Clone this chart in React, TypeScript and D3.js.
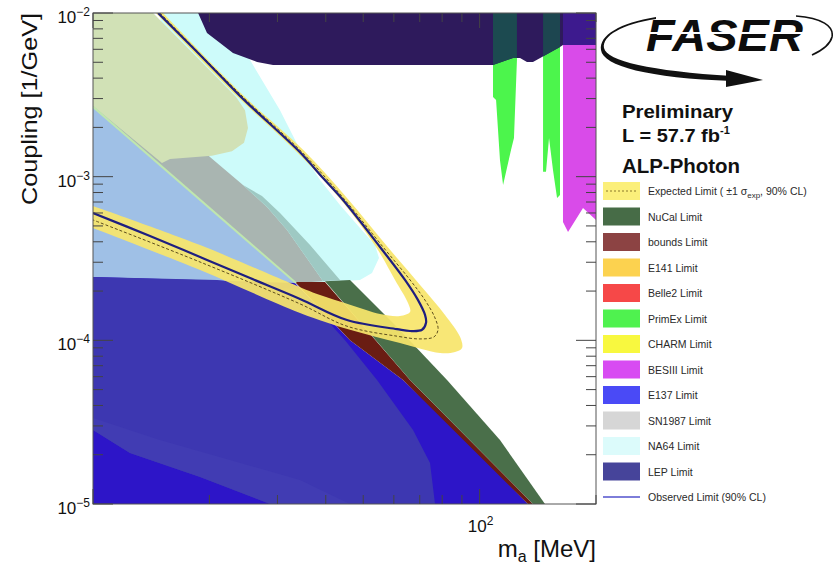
import React from "react";
import * as d3 from "d3";

// Plot frame in pixels
const FRAME = { left: 93, top: 13, right: 596, bottom: 504 };

// Axes: ALP mass m_a [MeV] (log) and coupling g [1/GeV] (log)
const massDomain: [number, number] = [10, 200];
const couplingDomain: [number, number] = [1e-5, 1e-2];
const yLabelExponents = [-2, -3, -4, -5];
const xLabelExponents = [2];

// Exclusion regions, mass in MeV, coupling in 1/GeV
const na64Mass = [14.9, 20.68, 25.48, 30.46, 34.31, 38.66, 43.54, 49.04, 53.63, 54.93, 52.69, 49.04, 41.02, 34.31, 25.48, 18.92, 15.82];
const na64Coupling = [1e-2, 1e-2, 5.16e-3, 2.55e-3, 1.46e-3, 9.54e-4, 6.71e-4, 4.86e-4, 3.82e-4, 3.18e-4, 2.58e-4, 2.34e-4, 2.27e-4, 2.24e-4, 4.72e-4, 1.1e-3, 1.93e-3];

const sn1987Mass = [10, 14.04, 20.07, 24.43, 28.19, 31.76, 39.36, 33.5, 10];
const sn1987Coupling = [5.94e-3, 2.94e-3, 1.32e-3, 8.89e-4, 6.53e-4, 4.72e-4, 2.3e-4, 2.24e-4, 2.67e-4];

const sn1987Na64Mass = [24.43, 27.36, 30.46, 36.42, 43.54, 39.36, 31.76, 28.19];
const sn1987Na64Coupling = [8.89e-4, 7.62e-4, 6.0e-4, 3.82e-4, 2.34e-4, 2.3e-4, 4.72e-4, 6.53e-4];

const e137Mass = [10, 33.5, 33.5, 10];
const e137Coupling = [2.67e-3, 2.24e-4, 2.2e-4, 2.2e-4];

const e137CoreMass = [10, 33.3, 46.21, 63.37, 94.45, 133.4, 10];
const e137CoreCoupling = [2.44e-4, 2.24e-4, 1.0e-4, 5.72e-5, 2.33e-5, 1e-5, 1e-5];

const sn1987LowMass = [10, 20.93, 34.31, 44.85, 54.28, 67.26, 74.43, 76.67, 28.7, 18.92, 12.46, 10];
const sn1987LowCoupling = [2.44e-4, 2.34e-4, 2.03e-4, 1.0e-4, 5.72e-5, 2.83e-5, 1.78e-5, 1e-5, 1e-5, 1.46e-5, 2.05e-5, 2.83e-5];

const sn1987RimMass = [10, 14.9, 22.62, 34.31, 46.21, 28.7, 18.92, 12.46, 10];
const sn1987RimCoupling = [3.35e-5, 2.46e-5, 1.86e-5, 1.4e-5, 1e-5, 1e-5, 1.46e-5, 2.05e-5, 2.83e-5];

const boundsMass = [33.3, 39.82, 66.07, 137.4, 133.4, 63.37, 46.21];
const boundsCoupling = [2.27e-4, 2.27e-4, 5.72e-5, 1e-5, 1e-5, 5.72e-5, 1.0e-4];

const nucalMass = [39.82, 46.21, 60.42, 82.36, 112.9, 147.6, 137.4, 66.07];
const nucalCoupling = [2.3e-4, 2.34e-4, 1.24e-4, 5.72e-5, 2.46e-5, 1e-5, 1e-5, 5.72e-5];

const charmMass = [10, 14.3, 23.44, 24.73, 25.17, 24.58, 22.88, 20.31, 15.82, 15.08, 10];
const charmCoupling = [1e-2, 1e-2, 3.07e-3, 2.55e-3, 1.98e-3, 1.61e-3, 1.43e-3, 1.34e-3, 1.28e-3, 1.21e-3, 2.7e-3];

const e137EdgeMass = [10, 33.5];
const e137EdgeCoupling = [2.67e-3, 2.24e-4];

const primexAMass = [108.3, 108.3, 110.3, 112.9, 115.0, 120.6, 122.7, 124.9, 124.9];
const primexACoupling = [1e-2, 3.07e-3, 2.94e-3, 1.26e-3, 8.89e-4, 1.46e-3, 1.72e-3, 5.16e-3, 1e-2];

const primexBMass = [145.9, 145.9, 148.5, 151.2, 154.8, 158.6, 161.4, 161.4];
const primexBCoupling = [1e-2, 1.07e-3, 1.07e-3, 1.72e-3, 1.1e-3, 7.41e-4, 7.73e-4, 1e-2];

const besMass = [164.3, 200, 200, 185.1, 169.3, 164.3];
const besCoupling = [1e-2, 1e-2, 5.44e-4, 6.44e-4, 4.59e-4, 5.28e-4];

const lepMass = [18.7, 19.72, 21.31, 23.02, 26.57, 29.22, 108.3, 122.0, 127.2, 132.6, 137.4, 161.4, 164.3, 200, 200];
const lepCoupling = [1e-2, 7.55e-3, 6.56e-3, 5.7e-3, 5.02e-3, 4.81e-3, 4.81e-3, 5.31e-3, 5.31e-3, 5.02e-3, 5.02e-3, 6.2e-3, 6.37e-3, 6.37e-3, 1e-2];

// FASER expected +-1 sigma band (outer and inner edge) and limits
const bandOuterMass = [15.17, 24.73, 34.93, 45.39, 57.27, 70.13, 81.38, 88.99, 90.06, 86.39, 78.99, 62.24, 46.21, 34.31, 18.92, 10.0];
const bandOuterCoupling = [1e-2, 3.07e-3, 1.46e-3, 7.41e-4, 3.82e-4, 2.18e-4, 1.43e-4, 1.05e-4, 8.98e-5, 8.49e-5, 8.37e-5, 9.63e-5, 1.16e-4, 1.47e-4, 2.69e-4, 4.86e-4];
const bandInnerMass = [14.55, 23.71, 33.91, 43.8, 53.95, 60.42, 65.28, 66.07, 62.24, 55.26, 46.21, 38.66, 32.33, 18.92, 10.0];
const bandInnerCoupling = [1e-2, 3.07e-3, 1.39e-3, 7.2e-4, 3.72e-4, 2.34e-4, 1.69e-4, 1.49e-4, 1.41e-4, 1.45e-4, 1.65e-4, 1.89e-4, 2.24e-4, 3.82e-4, 6.62e-4];

const expectedMass = [14.9, 24.29, 34.72, 44.85, 56.25, 66.07, 72.24, 76.67, 78.06, 76.23, 70.13, 61.14, 45.39, 34.31, 18.92, 10.0];
const expectedCoupling = [1e-2, 3.11e-3, 1.41e-3, 7.2e-4, 3.72e-4, 2.34e-4, 1.76e-4, 1.37e-4, 1.16e-4, 1.05e-4, 1.02e-4, 1.06e-4, 1.22e-4, 1.67e-4, 3.01e-4, 5.44e-4];

const observedMass = [14.73, 18.92, 24.0, 26.24, 34.31, 39.36, 44.33, 55.26, 64.12, 69.3, 72.24, 72.68, 70.96, 66.07, 61.14, 45.39, 34.31, 25.48, 18.92, 14.04, 10.0];
const observedCoupling = [1e-2, 5.54e-3, 3.11e-3, 2.55e-3, 1.41e-3, 9.8e-4, 7.2e-4, 3.72e-4, 2.34e-4, 1.76e-4, 1.43e-4, 1.28e-4, 1.16e-4, 1.14e-4, 1.17e-4, 1.33e-4, 1.79e-4, 2.4e-4, 3.23e-4, 4.34e-4, 6.0e-4];

// Legend
const legendLabels = ["NuCal Limit", "bounds Limit", "E141 Limit", "Belle2 Limit", "PrimEx Limit", "CHARM Limit", "BESIII Limit", "E137 Limit", "SN1987 Limit", "NA64 Limit", "LEP Limit"];
const legendColors = ["#476c47", "#8c4343", "#fcd24f", "#f64848", "#4ff24f", "#f8f83f", "#d84bf2", "#4a4af6", "#d6d6d6", "#dcfbfb", "#46449a"];

type Pt = [number, number];
const zip = (m: number[], g: number[]): Pt[] => m.map((v, i) => [v, g[i]] as Pt);

const FONT = "'Liberation Sans', Arial, Helvetica, sans-serif";

export default function App() {
  const x = d3.scaleLog().domain(massDomain).range([FRAME.left, FRAME.right]);
  const y = d3.scaleLog().domain(couplingDomain).range([FRAME.bottom, FRAME.top]);

  const poly = d3.line<Pt>().x((d) => x(d[0])).y((d) => y(d[1])).curve(d3.curveLinearClosed);
  const open = d3.line<Pt>().x((d) => x(d[0])).y((d) => y(d[1]));
  const smooth = d3.line<Pt>().x((d) => x(d[0])).y((d) => y(d[1])).curve(d3.curveCatmullRom.alpha(0.5));
  const region = (m: number[], g: number[]) => poly(zip(m, g)) ?? "";

  const innerRev = zip(bandInnerMass, bandInnerCoupling).reverse();
  const bandPath =
    (smooth(zip(bandOuterMass, bandOuterCoupling)) ?? "") + "L" + (smooth(innerRev) ?? "").slice(1) + "Z";

  const lepPath = region(lepMass, lepCoupling);

  const isDecade = (v: number) => Math.abs(Math.log10(v) - Math.round(Math.log10(v))) < 1e-6;
  const yTicks = y.ticks();
  const xTicks = x.ticks();

  const rowY = (i: number) => 191 + i * 25.5;
  const plotW = FRAME.right - FRAME.left;
  const plotH = FRAME.bottom - FRAME.top;

  return (
    <svg
      width={833}
      height={564}
      viewBox="0 0 833 564"
      style={{ position: "absolute", left: 0, top: 0, display: "block", background: "#fff" }}
      fontFamily={FONT}
    >
      <defs>
        <clipPath id="plotClip">
          <rect x={FRAME.left} y={FRAME.top} width={plotW} height={plotH} />
        </clipPath>
        <clipPath id="lepClip">
          <path d={lepPath} />
        </clipPath>
      </defs>
      <rect x={0} y={0} width={833} height={564} fill="#fff" />

      <g clipPath="url(#plotClip)">
        <path d={region(na64Mass, na64Coupling)} fill="#cdfbfa" />
        <path d={region(sn1987Mass, sn1987Coupling)} fill="#a9b5b1" />
        <path d={region(sn1987Na64Mass, sn1987Na64Coupling)} fill="#9ec9c3" />
        <path d={region(e137Mass, e137Coupling)} fill="#9fc0e6" />
        <path d={region(e137CoreMass, e137CoreCoupling)} fill="#2d15c8" />
        <path d={region(sn1987LowMass, sn1987LowCoupling)} fill="#3d37b1" />
        <path d={region(sn1987RimMass, sn1987RimCoupling)} fill="#413cb3" />
        <path d={region(boundsMass, boundsCoupling)} fill="#6a1d13" />
        <path d={region(nucalMass, nucalCoupling)} fill="#4a6f4a" />
        <path d={region(charmMass, charmCoupling)} fill="#d1e1b6" />
        <path d={open(zip(e137EdgeMass, e137EdgeCoupling)) ?? ""} fill="none" stroke="#bfe6ae" strokeWidth={2} />
        <path d={region(primexAMass, primexACoupling)} fill="#4cf54c" />
        <path d={region(primexBMass, primexBCoupling)} fill="#4cf54c" />
        <path d={region(besMass, besCoupling)} fill="#d94be9" />
        <path d={lepPath} fill="#2e1a5c" />
        <g clipPath="url(#lepClip)">
          <path d={region(primexAMass, primexACoupling)} fill="#1c4a50" />
          <path d={region(primexBMass, primexBCoupling)} fill="#1d4650" />
          <path d={region(besMass, besCoupling)} fill="#3d1a8e" />
        </g>
        <path d={bandPath} fill="#f8e56c" fillOpacity={0.93} />
        <path
          d={smooth(zip(expectedMass, expectedCoupling)) ?? ""}
          fill="none"
          stroke="#5e4e1c"
          strokeWidth={1}
          strokeDasharray="3,2"
        />
        <path
          d={smooth(zip(observedMass, observedCoupling)) ?? ""}
          fill="none"
          stroke="#1e1e80"
          strokeWidth={2.2}
        />
      </g>

      {/* frame */}
      <rect x={FRAME.left} y={FRAME.top} width={plotW} height={plotH} fill="none" stroke="#555" strokeWidth={1} />

      {/* y ticks, left and right */}
      {yTicks.map((v, i) => {
        const len = isDecade(v) ? 20 : 10;
        const py = y(v);
        return (
          <g key={"yt" + i} stroke="#444" strokeWidth={1}>
            <line x1={FRAME.left} x2={FRAME.left + len} y1={py} y2={py} />
            <line x1={FRAME.right} x2={FRAME.right - len} y1={py} y2={py} />
          </g>
        );
      })}
      {/* x ticks, bottom and top */}
      {xTicks.map((v, i) => {
        const len = isDecade(v) ? 15 : 9;
        const px = x(v);
        return (
          <g key={"xt" + i} stroke="#444" strokeWidth={1}>
            <line x1={px} x2={px} y1={FRAME.bottom} y2={FRAME.bottom - len} />
            <line x1={px} x2={px} y1={FRAME.top} y2={FRAME.top + len} />
          </g>
        );
      })}

      {/* tick labels */}
      {yLabelExponents.map((e) => (
        <text key={"yl" + e} x={90} y={y(Math.pow(10, e)) + 10} textAnchor="end" fontSize={17} fill="#111">
          <tspan>10</tspan>
          <tspan dy={-7} fontSize={12}>{"\u2212" + Math.abs(e)}</tspan>
        </text>
      ))}
      {xLabelExponents.map((e) => (
        <text key={"xl" + e} x={x(Math.pow(10, e)) + 1} y={532} textAnchor="middle" fontSize={17} fill="#111">
          <tspan>10</tspan>
          <tspan dy={-7} fontSize={12}>{String(e)}</tspan>
        </text>
      ))}

      {/* axis titles */}
      <text
        transform="translate(37,13) rotate(-90)"
        textAnchor="end"
        fontSize={22}
        fill="#111"
        textLength={192}
        lengthAdjust="spacingAndGlyphs"
      >
        Coupling [1/GeV]
      </text>
      <text x={596} y={557} textAnchor="end" fontSize={24} fill="#111">
        <tspan>m</tspan>
        <tspan dy={5} fontSize={16}>a</tspan>
        <tspan dy={-5}> [MeV]</tspan>
      </text>

      {/* FASER logo */}
      <g>
        <path
          d="M 656 19 C 622 24, 602 36, 604 48 C 607 61, 650 71, 732 76 L 732 81 C 648 78, 603 66, 601 50 C 599 35, 620 23, 656 17 Z"
          fill="#111"
        />
        <path d="M 726 70 L 763 80 L 726 87 Z" fill="#111" />
        <path d="M 796 16 C 822 18, 834 26, 832 37 C 830 45, 823 50, 812 55" stroke="#111" strokeWidth={1.6} fill="none" />
        <text
          x={646}
          y={51}
          fontSize={44}
          fontWeight="bold"
          fontStyle="italic"
          fill="#0d0d0d"
          textLength={157}
          lengthAdjust="spacingAndGlyphs"
        >
          FASER
        </text>
        <line x1={640} x2={810} y1={33} y2={33} stroke="#fff" strokeWidth={1.8} />
      </g>

      <text x={622} y={118} fontSize={19} fontWeight="bold" fill="#111" textLength={111} lengthAdjust="spacingAndGlyphs">
        Preliminary
      </text>
      <text x={622} y={142} fontSize={19} fontWeight="bold" fill="#111">
        <tspan textLength={98} lengthAdjust="spacingAndGlyphs">L = 57.7 fb</tspan>
        <tspan dy={-8} fontSize={11}>-1</tspan>
      </text>
      <text x={622} y={173} fontSize={20} fontWeight="bold" fill="#111" textLength={118} lengthAdjust="spacingAndGlyphs">
        ALP-Photon
      </text>

      {/* legend */}
      <g fontSize={10.5} fill="#2a2a2a">
        <rect x={603} y={rowY(0) - 9} width={37} height={18} fill="#fbef7a" />
        <line x1={606} x2={638} y1={rowY(0)} y2={rowY(0)} stroke="#8a782a" strokeWidth={1} strokeDasharray="2,2" />
        <text x={648} y={rowY(0) + 4}>
          <tspan>Expected Limit ( ±1 σ</tspan>
          <tspan dy={3} fontSize={8}>exp</tspan>
          <tspan dy={-3}>, 90% CL)</tspan>
        </text>
        {legendLabels.map((lab, i) => (
          <g key={lab}>
            <rect x={603} y={rowY(i + 1) - 9} width={37} height={18} fill={legendColors[i]} />
            <text x={648} y={rowY(i + 1) + 4}>{lab}</text>
          </g>
        ))}
        <line x1={603} x2={640} y1={rowY(12)} y2={rowY(12)} stroke="#5252cc" strokeWidth={1.5} />
        <text x={648} y={rowY(12) + 4}>Observed Limit (90% CL)</text>
      </g>
    </svg>
  );
}
